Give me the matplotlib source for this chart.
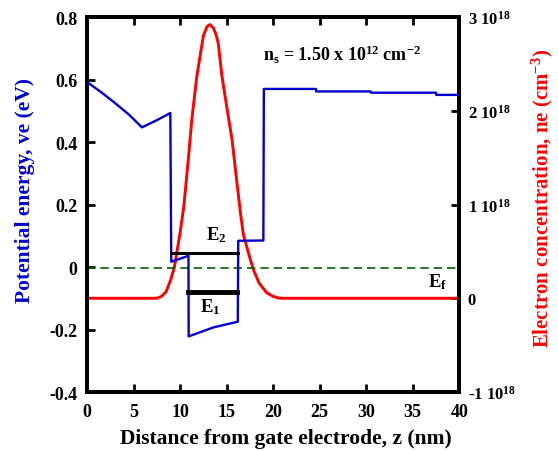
import numpy as np
import matplotlib
matplotlib.use("Agg")
import matplotlib.pyplot as plt
from matplotlib.ticker import FixedLocator, FuncFormatter

plt.rcParams['font.family'] = ['Liberation Serif', 'DejaVu Serif']
plt.rcParams['font.weight'] = 'bold'
plt.rcParams['mathtext.fontset'] = 'custom'
plt.rcParams['mathtext.rm'] = 'Liberation Serif:bold'
plt.rcParams['mathtext.it'] = 'Liberation Serif:bold'
plt.rcParams['mathtext.bf'] = 'Liberation Serif:bold'

# Conduction-band potential energy profile (eV) vs depth (nm)
z_pot = [0.0, 1.5, 3.0, 4.5, 5.9, 7.5, 8.95, 9.05, 10.9, 10.92, 13.6, 16.2,
         16.25, 18.95, 19.0, 24.6, 24.62, 30.5, 30.52, 37.5, 37.52, 40.0]
ve = [0.592, 0.560, 0.525, 0.488, 0.447, 0.470, 0.493, 0.017, 0.036, -0.222,
      -0.193, -0.175, 0.084, 0.085, 0.570, 0.570, 0.562, 0.562, 0.558, 0.558,
      0.551, 0.551]

# Electron concentration (units of 1e18 cm^-3)
z_ne = [0.0, 7.5, 8.0, 8.5, 9.0, 9.4, 10.0, 10.4, 10.9, 11.25, 11.8, 12.5,
        12.9, 13.2, 13.6, 13.9, 14.1, 14.5, 15.0, 15.6, 16.1, 16.5, 16.8,
        17.5, 17.9, 18.5, 19.3, 20.0, 20.75, 40.0]
ne = [0.0, 0.0, 0.02, 0.07, 0.2, 0.34, 0.7, 0.98, 1.5, 1.9, 2.37, 2.80,
      2.90, 2.92, 2.88, 2.80, 2.72, 2.37, 2.05, 1.68, 1.24, 0.90, 0.68,
      0.43, 0.30, 0.16, 0.06, 0.02, 0.0, 0.0]

# Subband levels and Fermi level (eV)
E2_span, E2 = (9.0, 16.2), 0.045
E1_span, E1 = (10.9, 16.15), -0.081
Ef = -0.004

blue = '#0000d0'
red = '#ff0000'

fig = plt.figure(figsize=(5.58, 4.52), dpi=100)
ax = fig.add_axes([0.156, 0.1305, 0.667, 0.8295])
ax2 = ax.twinx()

ax.plot(z_pot, ve, color=blue, lw=1.7, zorder=3)
ax.plot(E2_span, [E2, E2], color='black', lw=2.2, zorder=4)
ax.plot(E1_span, [E1, E1], color='black', lw=3.5, zorder=4)
ax.axhline(Ef, color='#006400', lw=1.2, ls=(0, (5, 3)), zorder=2)

ax.text(13.9, 0.106, 'E$_2$', ha='center', va='center', fontsize=13.5)
ax.text(13.2, -0.125, 'E$_1$', ha='center', va='center', fontsize=13.5)
ax.text(37.7, -0.046, 'E$_f$', ha='center', va='center', fontsize=13.5)
ax.text(18.9, 0.683, 'n$_s$ = 1.50 x 10$^{12}$ cm$^{-2}$', ha='left',
        va='center', fontsize=13)

ax2.plot(z_ne, np.array(ne) * 1e18, color=red, lw=2.1, zorder=3)

ax.set_xlim(0, 40)
ax.set_ylim(-0.4, 0.8)
ax2.set_ylim(-1e18, 3e18)
ax.set_zorder(ax2.get_zorder() + 1)
ax.patch.set_visible(False)

ax.xaxis.set_major_locator(FixedLocator(np.arange(0, 41, 5)))
ax.yaxis.set_major_locator(FixedLocator([-0.4, -0.2, 0, 0.2, 0.4, 0.6, 0.8]))
ax.yaxis.set_major_formatter(FuncFormatter(
    lambda v, p: '0' if abs(v) < 1e-9 else f'{v:.1f}'))
ax.xaxis.set_major_formatter(FuncFormatter(lambda v, p: f'{int(round(v))}'))

ax2.yaxis.set_major_locator(FixedLocator([-1e18, 0, 1e18, 2e18, 3e18]))


def conc_fmt(v, p):
    k = int(round(v / 1e18))
    return '0' if k == 0 else f'{k} 10$^{{18}}$'


ax2.yaxis.set_major_formatter(FuncFormatter(conc_fmt))

for a in (ax, ax2):
    for s in a.spines.values():
        s.set_linewidth(2.8)
ax.tick_params(axis='x', direction='in', length=6, width=2, top=True,
               labelsize=13, pad=8)
ax.tick_params(axis='y', direction='in', length=6, width=2, right=False,
               labelsize=13, pad=7)
ax2.tick_params(axis='y', direction='in', length=6, width=2,
                labelsize=12, pad=6)

ax.set_xlabel('Distance from gate electrode, z (nm)', fontsize=15.5,
              fontweight='bold')
ax.set_ylabel('Potential energy, ve (eV)', fontsize=15.5, color=blue,
              fontweight='bold')
ax2.set_ylabel('Electron concentration, ne (cm$^{-3}$)', fontsize=15,
               color=red, fontweight='bold')
ax.xaxis.set_label_coords(0.535, -0.095)
ax.yaxis.set_label_coords(-0.14, 0.54)
ax2.yaxis.set_label_coords(1.19, 0.52)

fig.savefig('out.png', dpi=100)
